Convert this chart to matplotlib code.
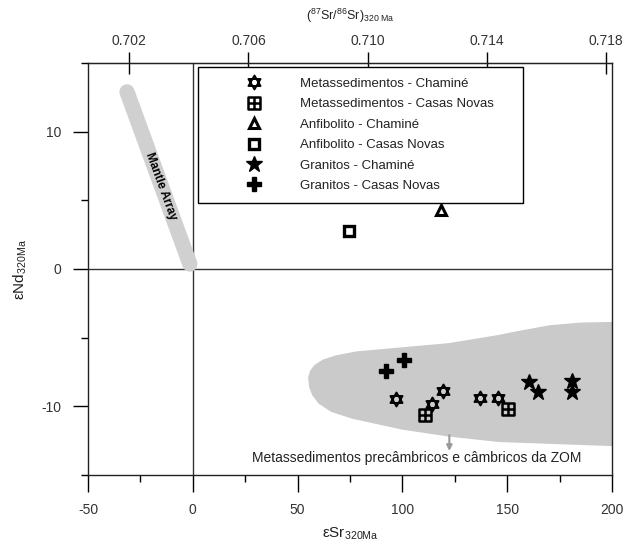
import numpy as np
import matplotlib
matplotlib.use("Agg")
import matplotlib.pyplot as plt
from matplotlib.path import Path
from matplotlib.patches import Polygon

plt.rcParams['font.family'] = ['Liberation Sans', 'DejaVu Sans']
plt.rcParams['mathtext.fontset'] = 'custom'
plt.rcParams['mathtext.rm'] = 'Liberation Sans'
plt.rcParams['mathtext.it'] = 'Liberation Sans:italic'
plt.rcParams['axes.unicode_minus'] = False

# ---- data (eSr, eNd at 320 Ma) ----
meta_chamine_x = [97.0, 114.1, 119.2, 137.1, 145.4]
meta_chamine_y = [-9.49, -9.86, -8.89, -9.42, -9.37]
meta_casas_x = [110.9, 150.6]
meta_casas_y = [-10.6, -10.2]
anf_chamine_x = [118.4]
anf_chamine_y = [4.3]
anf_casas_x = [74.3]
anf_casas_y = [2.8]
gran_chamine_x = [160.5, 164.9, 180.8, 180.8]
gran_chamine_y = [-8.2, -8.93, -8.13, -8.93]
gran_casas_x = [92.2, 101.0]
gran_casas_y = [-7.43, -6.63]

labels = ["Metassedimentos - Chaminé", "Metassedimentos - Casas Novas",
          "Anfibolito - Chaminé", "Anfibolito - Casas Novas",
          "Granitos - Chaminé", "Granitos - Casas Novas"]

# ZOM field outline
zom_x = [55, 56, 58, 62, 68, 78, 100, 122, 146, 154, 170, 185, 201,
         201, 146, 122, 100, 76, 66, 60, 57, 55.5]
zom_y = [-7.9, -7.4, -7.0, -6.6, -6.3, -6.0, -5.7, -5.4, -4.8, -4.55, -4.1, -3.9, -3.85,
         -12.9, -12.6, -12.2, -11.7, -10.9, -10.4, -9.8, -9.2, -8.6]

# mantle array end points
mantle_x = [-31.4, -1.4]
mantle_y = [12.9, 0.36]

R0 = 0.70413
top_ticks = [0.702, 0.706, 0.710, 0.714, 0.718]

# ---- markers ----
hexa = Path([(0, 1), (-0.866, -0.5), (0.866, -0.5), (0, 1),
             (0, -1), (-0.866, 0.5), (0.866, 0.5), (0, -1)],
            [Path.MOVETO, Path.LINETO, Path.LINETO, Path.CLOSEPOLY,
             Path.MOVETO, Path.LINETO, Path.LINETO, Path.CLOSEPOLY])
gridsq = Path([(-1, -1), (1, -1), (1, 1), (-1, 1), (-1, -1),
               (0, -1), (0, 1), (-1, 0), (1, 0)],
              [Path.MOVETO, Path.LINETO, Path.LINETO, Path.LINETO, Path.CLOSEPOLY,
               Path.MOVETO, Path.LINETO, Path.MOVETO, Path.LINETO])

fig = plt.figure(figsize=(6.24, 5.46), dpi=100)
ax = fig.add_axes([88/624, 71/546, 524/624, 412/546])
ax.set_xlim(-50, 200)
ax.set_ylim(-15, 15)

ax.add_patch(Polygon(np.column_stack([zom_x, zom_y]), closed=True,
                     facecolor='#cacaca', edgecolor='none', zorder=1))
ax.axhline(0, color='#333333', lw=1.0, zorder=2)
ax.axvline(0, color='#333333', lw=1.0, zorder=2)
ax.plot(mantle_x, mantle_y, color='#d0d0d0', lw=11, solid_capstyle='round', zorder=3)

# rotation of mantle text
p1 = ax.transData.transform((mantle_x[0], mantle_y[0]))
p2 = ax.transData.transform((mantle_x[1], mantle_y[1]))
ang = np.degrees(np.arctan2(p2[1]-p1[1], p2[0]-p1[0]))
ax.text(-15.5, 6.0, "Mantle Array", rotation=ang, rotation_mode='anchor',
        ha='center', va='center', fontsize=8.5, fontweight='bold', zorder=4)

h1, = ax.plot(meta_chamine_x, meta_chamine_y, ls='none', marker=hexa, ms=10,
              mfc='none', mec='black', mew=1.4, zorder=5)
h2, = ax.plot(meta_casas_x, meta_casas_y, ls='none', marker=gridsq, ms=9,
              mfc='none', mec='black', mew=1.8, zorder=5)
h3, = ax.plot(anf_chamine_x, anf_chamine_y, ls='none', marker='^', ms=6.5,
              mfc='white', mec='black', mew=2.2, zorder=5)
h4, = ax.plot(anf_casas_x, anf_casas_y, ls='none', marker='s', ms=7,
              mfc='white', mec='black', mew=2.4, zorder=5)
h5, = ax.plot(gran_chamine_x, gran_chamine_y, ls='none', marker='*', ms=12,
              mfc='black', mec='black', zorder=5)
h6, = ax.plot(gran_casas_x, gran_casas_y, ls='none', marker='P', ms=10,
              mfc='black', mec='black', zorder=5)

ax.annotate('', xy=(122.4, -13.25), xytext=(122.4, -12.1),
            arrowprops=dict(arrowstyle='-|>', color='#999999', lw=1.5,
                            mutation_scale=8, shrinkA=0, shrinkB=0), zorder=4)
ax.text(107, -13.75, "Metassedimentos precâmbricos e câmbricos da ZOM",
        ha='center', va='center', fontsize=10, color='#222222', zorder=6)

leg = ax.legend([h1, h2, h3, h4, h5, h6], labels, loc='upper left',
                bbox_to_anchor=(0.21, 0.66, 0.62, 0.33), mode='expand',
                fontsize=9.5, frameon=True, fancybox=False, edgecolor='black',
                framealpha=1, handlelength=6.9, handletextpad=0.0,
                borderpad=0.8, labelspacing=0.62, borderaxespad=0, numpoints=1)
leg.get_frame().set_linewidth(1.0)
for t in leg.get_texts():
    t.set_color('#222222')

# ticks
ax.set_xticks([-50, 0, 50, 100, 150, 200])
ax.set_xticks([-25, 25, 75, 125, 175], minor=True)
ax.set_yticks([-10, 0, 10])
ax.set_yticks([-15, -5, 5, 15], minor=True)
ax.tick_params(axis='x', which='major', direction='out', length=12, width=1,
               labelsize=10, pad=8, labelcolor='#333333')
ax.tick_params(axis='x', which='minor', direction='out', length=5, width=1)
ax.tick_params(axis='y', which='major', direction='out', length=11, width=1,
               labelsize=10, pad=8, labelcolor='#333333')
ax.tick_params(axis='y', which='minor', direction='out', length=5, width=1)
for s in ax.spines.values():
    s.set_linewidth(1.0)
    s.set_color('#222222')

ax.set_xlabel(r'εSr$_{\mathrm{320Ma}}$', fontsize=11, labelpad=6, color='#222222')
ax.set_ylabel(r'εNd$_{\mathrm{320Ma}}$', fontsize=11, labelpad=9, color='#222222')

sec = ax.secondary_xaxis('top', functions=(lambda e: R0*(1+np.asarray(e)/1e4),
                                           lambda r: (np.asarray(r)/R0-1)*1e4))
sec.set_xticks(top_ticks)
sec.set_xticklabels([f"{t:.3f}" for t in top_ticks])
sec.tick_params(axis='x', which='major', direction='inout', length=16, width=1,
                labelsize=10, pad=3, labelcolor='#333333')
sec.tick_params(axis='x', which='minor', length=0)
sec.set_xlabel(r'$(^{87}\mathrm{Sr}/^{86}\mathrm{Sr})_{320\ \mathrm{Ma}}$',
               fontsize=9, labelpad=10, color='#222222')

fig.savefig('out.png', dpi=100)
